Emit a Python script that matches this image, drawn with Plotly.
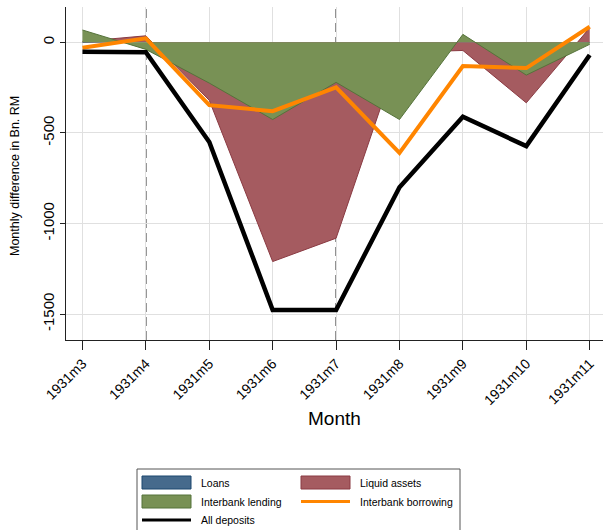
import plotly.graph_objects as go

# Monthly changes, Bn. RM
months = ["1931m3", "1931m4", "1931m5", "1931m6", "1931m7",
          "1931m8", "1931m9", "1931m10", "1931m11"]
loans = [0, 10, -150, -400, -350, -30, -20, -150, 0]
liquid_assets = [5, 36, -320, -1210, -1081, -55, -45, -334, 80]
interbank_lending = [68, -39, -225, -426, -221, -426, 44, -181, -11]
interbank_borrowing = [-30, 22, -347, -380, -249, -610, -131, -142, 86]
all_deposits = [-52, -55, -550, -1477, -1477, -800, -411, -573, -70]
event_months = ["1931m4", "1931m7"]
y_ticks = [0, -500, -1000, -1500]

W, H = 606, 530
L, R, T, B = 66, 3, 7, 190
PW, PH = W - L - R, H - T - B

BLUE_FILL, BLUE_LINE = "#466a8c", "#1a476f"
RED_FILL, RED_LINE = "#a55b60", "#8a3a42"
GREEN_FILL, GREEN_LINE = "#789155", "#55733a"
ORANGE = "#ff8500"
FONT = "Arial, Liberation Sans, sans-serif"

x = list(range(len(months)))

fig = go.Figure()
fig.add_trace(go.Scatter(x=x, y=loans, mode="lines", fill="tozeroy",
                         fillcolor=BLUE_FILL, line=dict(color=BLUE_LINE, width=1),
                         name="Loans", showlegend=False))
fig.add_trace(go.Scatter(x=x, y=liquid_assets, mode="lines", fill="tozeroy",
                         fillcolor=RED_FILL, line=dict(color=RED_LINE, width=1),
                         name="Liquid assets", showlegend=False))
fig.add_trace(go.Scatter(x=x, y=interbank_lending, mode="lines", fill="tozeroy",
                         fillcolor=GREEN_FILL, line=dict(color=GREEN_LINE, width=1),
                         name="Interbank lending", showlegend=False))
fig.add_trace(go.Scatter(x=x, y=interbank_borrowing, mode="lines",
                         line=dict(color=ORANGE, width=4),
                         name="Interbank borrowing", showlegend=False))
fig.add_trace(go.Scatter(x=x, y=all_deposits, mode="lines",
                         line=dict(color="black", width=4.5),
                         name="All deposits", showlegend=False))

shapes = []
for m in event_months:
    xi = months.index(m)
    shapes.append(dict(type="line", xref="x", yref="paper", x0=xi, x1=xi,
                       y0=0, y1=1, layer="between",
                       line=dict(color="#5a5a5a", width=1.5, dash="9px,5px")))


def px(v):
    return (v - L) / PW


def py(v):
    return (H - B - v) / PH


# legend box
shapes.append(dict(type="rect", xref="paper", yref="paper",
                   x0=px(137), x1=px(460), y0=py(545), y1=py(469),
                   line=dict(color="#555555", width=1), fillcolor="white",
                   layer="above"))

legend_rows = [
    ("Loans", "area", BLUE_FILL, BLUE_LINE, 142, 482.5),
    ("Interbank lending", "area", GREEN_FILL, GREEN_LINE, 142, 501.5),
    ("All deposits", "line", "black", "black", 142, 520),
    ("Liquid assets", "area", RED_FILL, RED_LINE, 301, 482.5),
    ("Interbank borrowing", "line", ORANGE, ORANGE, 301, 501.5),
]
annotations = []
for label, kind, fill, edge, x0, yc in legend_rows:
    if kind == "area":
        shapes.append(dict(type="rect", xref="paper", yref="paper",
                           x0=px(x0), x1=px(x0 + 49), y0=py(yc + 6.5), y1=py(yc - 6.5),
                           fillcolor=fill, line=dict(color=edge, width=1),
                           layer="above"))
    else:
        shapes.append(dict(type="line", xref="paper", yref="paper",
                           x0=px(x0), x1=px(x0 + 49), y0=py(yc), y1=py(yc),
                           line=dict(color=fill, width=3), layer="above"))
    annotations.append(dict(text=label, xref="paper", yref="paper",
                            x=px(x0 + 57), y=py(yc), xanchor="left", yanchor="middle",
                            showarrow=False, font=dict(family=FONT, size=10.5, color="black")))

annotations.append(dict(text="Month", xref="paper", yref="paper",
                        x=0.5, y=py(418), xanchor="center", yanchor="middle",
                        showarrow=False, font=dict(family=FONT, size=19, color="black")))
annotations.append(dict(text="Monthly difference in Bn. RM", xref="paper", yref="paper",
                        x=px(15), y=py(176), xanchor="center", yanchor="middle",
                        textangle=-90, showarrow=False,
                        font=dict(family=FONT, size=12.5, color="black")))

fig.update_layout(
    width=W, height=H,
    margin=dict(l=L, r=R, t=T, b=B, pad=0),
    paper_bgcolor="white", plot_bgcolor="white",
    showlegend=False,
    font=dict(family=FONT, color="black"),
    shapes=shapes,
    annotations=annotations,
    xaxis=dict(range=[-0.26, 8.21], tickmode="array", tickvals=x, ticktext=months,
               tickangle=-45, ticks="outside", ticklen=9, tickwidth=1, tickcolor="#222",
               showline=True, linecolor="#222", linewidth=1,
               showgrid=True, gridcolor="#e0e0e0", gridwidth=1, zeroline=False,
               tickfont=dict(family=FONT, size=14, color="black")),
    yaxis=dict(range=[-1643, 195], tickmode="array", tickvals=y_ticks,
               ticktext=[str(v) for v in y_ticks],
               tickangle=-90, ticks="outside", ticklen=5, tickwidth=1, tickcolor="#222",
               showline=True, linecolor="#222", linewidth=1,
               showgrid=True, gridcolor="#e0e0e0", gridwidth=1, zeroline=False,
               tickfont=dict(family=FONT, size=15, color="black")),
)

fig.write_html("out.html")
